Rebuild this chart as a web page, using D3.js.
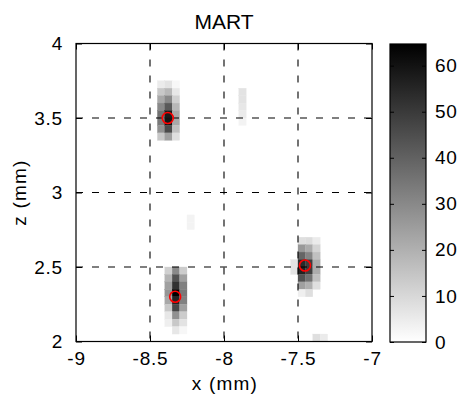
<!DOCTYPE html>
<html>
<head>
<meta charset="utf-8">
<script src="https://cdn.jsdelivr.net/npm/d3@7"></script>
<style>
  html, body { margin: 0; padding: 0; background: #fff; }
  svg text { font-family: "Liberation Sans", Arial, Helvetica, sans-serif; fill: #000; }
</style>
</head>
<body>
<svg id="chart" width="457" height="399"></svg>
<script>
// ---------------- data ----------------
const title = "MART";
const xLabel = "x (mm)";
const yLabel = "z (mm)";
const xTicks = [-9, -8.5, -8, -7.5, -7];
const yTicks = [2, 2.5, 3, 3.5, 4];
const cbTicks = [0, 10, 20, 30, 40, 50, 60];
const gridX = [-8.5, -8, -7.5];
const gridZ = [2.5, 3, 3.5];
const cellSize = 0.05; // grid resolution (mm)

// blob near (-8.38, 3.5): column left edges, row bottom edges, values[row][col]
const blob1Cols = [-8.45, -8.40, -8.35];
const blob1Rows = [3.70, 3.65, 3.60, 3.55, 3.50, 3.45, 3.40, 3.35];
const blob1Vals = [
  [5, 7, 2],
  [14, 18, 6],
  [22, 30, 12],
  [30, 42, 18],
  [36, 58, 22],
  [34, 60, 22],
  [28, 46, 16],
  [14, 24, 8]
];
// faint strip near x=-7.9
const blob4Cols = [-7.90];
const blob4Rows = [3.65, 3.60, 3.55, 3.50, 3.45];
const blob4Vals = [[7], [7], [6], [5], [3]];
// faint pair near (-8.22, 2.8)
const blob5Cols = [-8.25];
const blob5Rows = [2.80, 2.75];
const blob5Vals = [[3], [3]];
// blob near (-8.33, 2.30)
const blob2Cols = [-8.40, -8.35, -8.30];
const blob2Rows = [2.45, 2.40, 2.35, 2.30, 2.25, 2.20, 2.15, 2.10, 2.05];
const blob2Vals = [
  [12, 30, 13],
  [19, 44, 24],
  [24, 52, 32],
  [27, 64.7, 34],
  [22, 56, 32],
  [14, 47, 24],
  [6, 28, 13],
  [4, 14, 7],
  [0, 6, 2]
];
// blob near (-7.45, 2.51)
const blob3Cols = [-7.55, -7.50, -7.45, -7.40];
const blob3Rows = [2.65, 2.60, 2.55, 2.50, 2.45, 2.40, 2.35, 2.30];
const blob3Vals = [
  [0, 8, 9, 5],
  [0, 26, 21, 11],
  [0, 39, 31, 16],
  [7, 54, 49, 21],
  [7, 56, 49, 21],
  [0, 44, 36, 16],
  [0, 24, 20, 8],
  [0, 4, 8, 0]
];
// faint pair at the bottom edge
const blob6Cols = [-7.40, -7.35];
const blob6Rows = [2.00];
const blob6Vals = [[8, 5]];

// detected source positions (red circles)
const srcX = [-8.38, -8.33, -7.453];
const srcZ = [3.50, 2.30, 2.51];

// ---------------- build ----------------
function cellsOf(cols, rows, vals) {
  const out = [];
  rows.forEach((z, i) => cols.forEach((x, j) => {
    const v = vals[i][j];
    if (v > 0) out.push({ x, z, v });
  }));
  return out;
}
const cells = [].concat(
  cellsOf(blob1Cols, blob1Rows, blob1Vals),
  cellsOf(blob2Cols, blob2Rows, blob2Vals),
  cellsOf(blob3Cols, blob3Rows, blob3Vals),
  cellsOf(blob4Cols, blob4Rows, blob4Vals),
  cellsOf(blob5Cols, blob5Rows, blob5Vals),
  cellsOf(blob6Cols, blob6Rows, blob6Vals)
);
const vMax = d3.max(cells, d => d.v);
const fmt = d => String(d); // plain hyphen-minus like MATLAB

const svg = d3.select("#chart");
const L = 76, R = 372, T = 43.5, B = 341.5;
const x = d3.scaleLinear().domain([-9, -7]).range([L, R]);
const y = d3.scaleLinear().domain([2, 4]).range([B, T]);
const color = d3.scaleLinear().domain([0, vMax]).range(["#ffffff", "#000000"]);

// cells
svg.append("g").selectAll("rect").data(cells).join("rect")
  .attr("x", d => x(d.x))
  .attr("y", d => y(d.z + cellSize))
  .attr("width", d => x(d.x + cellSize) - x(d.x))
  .attr("height", d => y(d.z) - y(d.z + cellSize))
  .attr("fill", d => color(d.v))
  .attr("stroke", d => color(d.v))
  .attr("stroke-width", 0.3);

// dashed grid
const g = svg.append("g").attr("stroke", "#000").attr("stroke-width", 1.1)
  .attr("stroke-dasharray", "7,9");
g.selectAll("line.gx").data(gridX).join("line").attr("class", "gx")
  .attr("x1", d => x(d)).attr("x2", d => x(d)).attr("y1", T).attr("y2", B);
g.selectAll("line.gz").data(gridZ).join("line").attr("class", "gz")
  .attr("y1", d => y(d)).attr("y2", d => y(d)).attr("x1", L).attr("x2", R);

// axes (ticks inward)
const fs = "19px";
const ax = d3.axisBottom(x).tickValues(xTicks).tickSize(-6).tickPadding(12).tickFormat(fmt);
const gxA = svg.append("g").attr("transform", `translate(0,${B})`).call(ax);
const axT = d3.axisTop(x).tickValues(xTicks).tickSize(-6).tickFormat("");
const gxT = svg.append("g").attr("transform", `translate(0,${T})`).call(axT);
const ay = d3.axisLeft(y).tickValues(yTicks).tickSize(-6).tickPadding(13).tickFormat(fmt);
const gyA = svg.append("g").attr("transform", `translate(${L},0)`).call(ay);
const ayR = d3.axisRight(y).tickValues(yTicks).tickSize(-6).tickFormat("");
const gyR = svg.append("g").attr("transform", `translate(${R},0)`).call(ayR);
[gxA, gxT, gyA, gyR].forEach(a => {
  a.select(".domain").remove();
  a.selectAll(".tick line").attr("stroke", "#000").attr("stroke-width", 1);
  a.selectAll("text").attr("font-size", fs).attr("letter-spacing", "0.8px")
    .attr("font-family", "Liberation Sans, Arial, sans-serif").attr("fill", "#000");
});
gxA.selectAll("text").attr("dy", "0.71em");
gxA.selectAll("text").attr("transform", "translate(0,-2)");
svg.append("rect").attr("x", L).attr("y", T).attr("width", R - L).attr("height", B - T)
  .attr("fill", "none").attr("stroke", "#000").attr("stroke-width", 1.2);

// red circles
svg.append("g").selectAll("circle").data(srcX).join("circle")
  .attr("cx", d => x(d)).attr("cy", (d, i) => y(srcZ[i])).attr("r", 5.5)
  .attr("fill", "none").attr("stroke", "#ff0000").attr("stroke-width", 1.6);

// titles
svg.append("text").attr("x", (L + R) / 2).attr("y", 28.5).attr("text-anchor", "middle")
  .attr("font-size", "21px").text(title);
svg.append("text").attr("x", (L + R) / 2 + 1).attr("y", 390).attr("text-anchor", "middle")
  .attr("font-size", fs).attr("letter-spacing", "1.2px").text(xLabel);
svg.append("text").attr("transform", `translate(26,${(T + B) / 2}) rotate(-90)`)
  .attr("text-anchor", "middle").attr("font-size", fs).attr("letter-spacing", "1.2px").text(yLabel);

// colorbar
const cbL = 390, cbR = 426, cbT = 44, cbB = 342;
const cy = d3.scaleLinear().domain([0, vMax]).range([cbB, cbT]);
const defs = svg.append("defs");
const grad = defs.append("linearGradient").attr("id", "cbg")
  .attr("x1", 0).attr("x2", 0).attr("y1", 1).attr("y2", 0);
grad.append("stop").attr("offset", "0%").attr("stop-color", color(0));
grad.append("stop").attr("offset", "100%").attr("stop-color", color(vMax));
svg.append("rect").attr("x", cbL).attr("y", cbT).attr("width", cbR - cbL).attr("height", cbB - cbT)
  .attr("fill", "url(#cbg)").attr("stroke", "#000").attr("stroke-width", 1.2);
const cbA = d3.axisRight(cy).tickValues(cbTicks).tickSize(-4).tickPadding(9).tickFormat(fmt);
const gcb = svg.append("g").attr("transform", `translate(${cbR},0)`).call(cbA);
gcb.select(".domain").remove();
gcb.selectAll(".tick line").attr("stroke", "#000");
gcb.selectAll("text").attr("font-size", fs).attr("letter-spacing", "0.8px")
  .attr("font-family", "Liberation Sans, Arial, sans-serif").attr("fill", "#000");
const cbA2 = d3.axisLeft(cy).tickValues(cbTicks).tickSize(-4).tickFormat("");
const gcb2 = svg.append("g").attr("transform", `translate(${cbL},0)`).call(cbA2);
gcb2.select(".domain").remove();
gcb2.selectAll(".tick line").attr("stroke", "#000");
</script>
</body>
</html>
